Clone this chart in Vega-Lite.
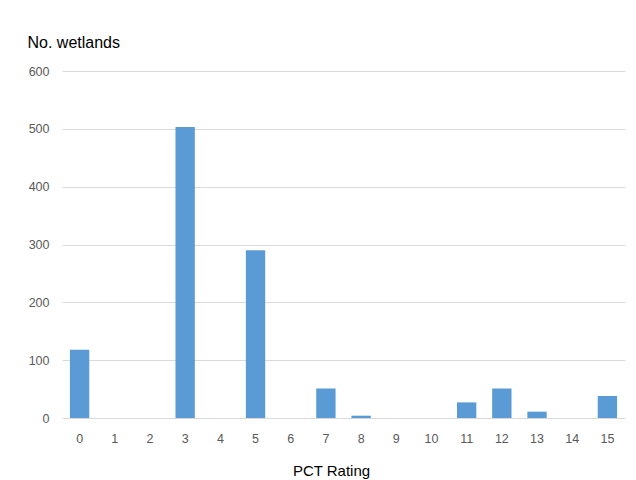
{
  "$schema": "https://vega.github.io/schema/vega-lite/v6.json",
  "autosize": "none",
  "padding": {"left": 62, "top": 71, "right": 11, "bottom": 62},
  "width": 563,
  "height": 347,
  "background": "#ffffff",
  "data": {
    "values": [
      {"rating": "0", "wetlands": 118},
      {"rating": "1", "wetlands": 0},
      {"rating": "2", "wetlands": 0},
      {"rating": "3", "wetlands": 503},
      {"rating": "4", "wetlands": 0},
      {"rating": "5", "wetlands": 290},
      {"rating": "6", "wetlands": 0},
      {"rating": "7", "wetlands": 51},
      {"rating": "8", "wetlands": 4},
      {"rating": "9", "wetlands": 0},
      {"rating": "10", "wetlands": 0},
      {"rating": "11", "wetlands": 27},
      {"rating": "12", "wetlands": 51},
      {"rating": "13", "wetlands": 11},
      {"rating": "14", "wetlands": 0},
      {"rating": "15", "wetlands": 38}
    ]
  },
  "mark": {"type": "bar", "color": "#5B9BD5"},
  "encoding": {
    "x": {
      "field": "rating",
      "type": "ordinal",
      "sort": null,
      "scale": {"paddingInner": 0.45, "paddingOuter": 0.225},
      "axis": {
        "title": "PCT Rating",
        "titleFont": "Liberation Sans",
        "titleFontSize": 15,
        "titleFontWeight": "normal",
        "titleColor": "#000000",
        "titleX": 269,
        "titleY": 57,
        "titleAlign": "center",
        "titleBaseline": "alphabetic",
        "labelAngle": 0,
        "labelFont": "Liberation Sans",
        "labelFontSize": 12.5,
        "labelColor": "#595959",
        "labelPadding": 14,
        "ticks": false,
        "domain": false,
        "grid": false
      }
    },
    "y": {
      "field": "wetlands",
      "type": "quantitative",
      "scale": {"domain": [0, 600], "nice": false},
      "axis": {
        "title": "No. wetlands",
        "titleFont": "Liberation Sans",
        "titleFontSize": 16,
        "titleFontWeight": "normal",
        "titleColor": "#000000",
        "titleAngle": 0,
        "titleAlign": "left",
        "titleBaseline": "alphabetic",
        "titleX": -35,
        "titleY": -24,
        "values": [0, 100, 200, 300, 400, 500, 600],
        "labelFont": "Liberation Sans",
        "labelFontSize": 12.5,
        "labelColor": "#595959",
        "labelPadding": 13,
        "ticks": false,
        "domain": false,
        "grid": true,
        "gridColor": "#D9D9D9",
        "gridWidth": 1
      }
    }
  },
  "config": {
    "view": {"stroke": null}
  }
}
